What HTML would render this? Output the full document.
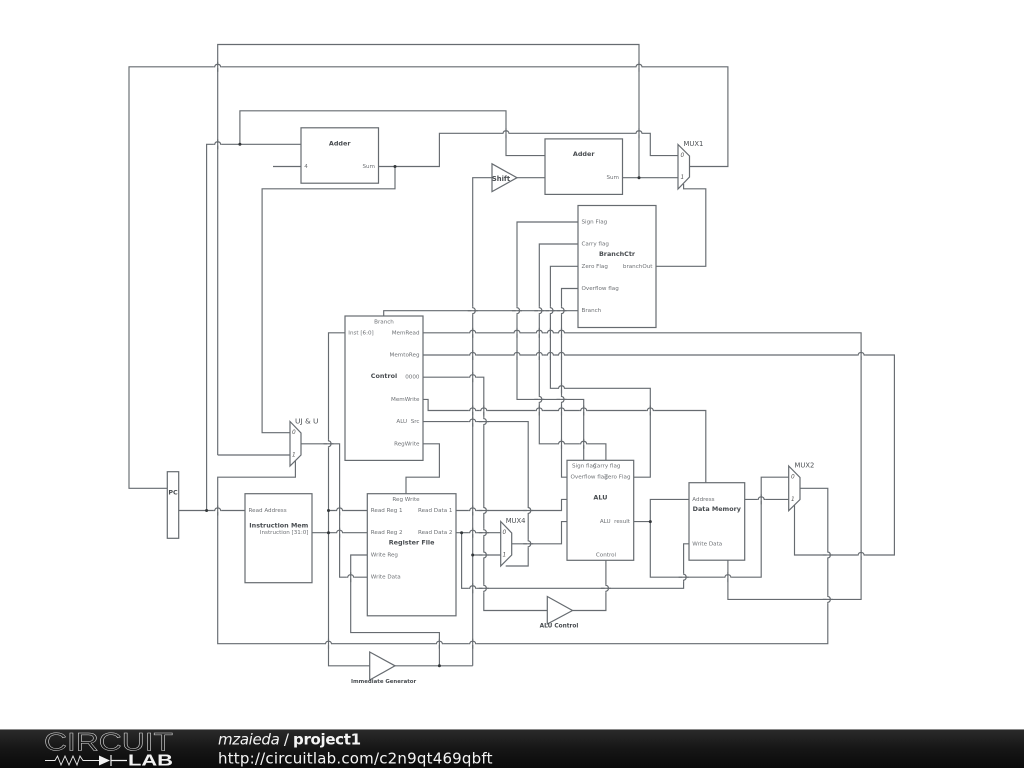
<!DOCTYPE html>
<html>
<head>
<meta charset="utf-8">
<style>
html,body{margin:0;padding:0;background:#fff;width:1024px;height:768px;overflow:hidden}
svg{display:block}
.w{fill:none;stroke:#666b70;stroke-width:1.15}
.s{fill:none;stroke:#666b70;stroke-width:1.2}
text{font-family:"DejaVu Sans","Liberation Sans",sans-serif;dominant-baseline:central}
.l{font-size:5.6px;fill:#6d7074}
.t{font-size:6.4px;font-weight:bold;fill:#484c50;text-anchor:middle}
.m{font-size:6.8px;fill:#4c5054}
.i{font-size:5.8px;font-style:italic;fill:#555}
.e{text-anchor:end}
.c{text-anchor:middle}
</style>
</head>
<body>
<svg width="1024" height="768" viewBox="0 0 1024 768" xmlns="http://www.w3.org/2000/svg">
<defs>
<g id="a"><path d="M-4 0H4" stroke="#fff" stroke-width="2.6" fill="none"/><path d="M0 -5V5" class="w"/><path d="M-4 0H-3C-2.4 -3.4 2.4 -3.4 3 0H4" class="w"/></g>
<g id="b"><path d="M0 -4V4" stroke="#fff" stroke-width="2.6" fill="none"/><path d="M-5 0H5" class="w"/><path d="M0 -4V-3C3.4 -2.4 3.4 2.4 0 3V4" class="w"/></g>
<circle id="d" r="1.5" fill="#33373a"/>
</defs>
<rect width="1024" height="768" fill="#fff"/>

<!-- wires -->
<path class="w" d="M217.7 455V44.5H639V177.7"/>
<path class="w" d="M167.3 488.3H129V66.8H727.9V166.5H689.5"/>
<path class="w" d="M206.6 510.5V144.3H301"/>
<path class="w" d="M239.9 144.3V110.8H506V155.6H545"/>
<path class="w" d="M273 166.5H301"/>
<path class="w" d="M378.5 166.5H439.4V133.3H650.3V155.6H678"/>
<path class="w" d="M395 166.5V188.8H262.1V432.7H290"/>
<path class="w" d="M217.7 455H290"/>
<path class="w" d="M295.4 461V477.2H217.7V643.7H827.8V488.3H800"/>
<path class="w" d="M178.7 510.5H245"/>
<path class="w" d="M472.7 665.8V177.7H492"/>
<path class="w" d="M517 177.7H545"/>
<path class="w" d="M622.5 177.7H678"/>
<path class="w" d="M683.6 184V188.8H705.8V266.3H656"/>
<path class="w" d="M578 222H517V399.4H583.7V460.3"/>
<path class="w" d="M578 244H539.3V443.8H605.9V460.3"/>
<path class="w" d="M578 266.3H550.4V388.3H650.3V477.2H633.7"/>
<path class="w" d="M578 288.5H561.5V477.2H567"/>
<path class="w" d="M578 310.7H383.7V316"/>
<path class="w" d="M345 332.8H328.5V665.8H369.7"/>
<path class="w" d="M423 332.8H861.1V599.4H727.9V560"/>
<path class="w" d="M423 355H894.4V555H794.5V505"/>
<path class="w" d="M423 377.2H483.8V610.5H547.3"/>
<path class="w" d="M423 399.4H428.1V410.5H705.8V482.7"/>
<path class="w" d="M423 421.6H528.2V566H505.7"/>
<path class="w" d="M423 443.8H439.4V477.2H406V493.7"/>
<path class="w" d="M301 443.8H339.6V577.2H367.3"/>
<path class="w" d="M312 532.7H367.3"/>
<path class="w" d="M328.5 510.5H367.3"/>
<path class="w" d="M456 510.5H561.5V499.4H567"/>
<path class="w" d="M456 532.7H500.7"/>
<path class="w" d="M461.6 532.7V588.3H683.6V543.8H689"/>
<path class="w" d="M472.7 555H500.7"/>
<path class="w" d="M511.7 543.8H561.5V521.6H567"/>
<path class="w" d="M633.7 521.6H650.3"/>
<path class="w" d="M689 499.4H650.3V577.2H761.2V477.2H788.7"/>
<path class="w" d="M744.7 499.4H788.7"/>
<path class="w" d="M572.5 610.5H605.9V560.3"/>
<path class="w" d="M395 665.8H472.7"/>
<path class="w" d="M439.4 665.8V632.6H350.7V555H367.3"/>

<!-- jumps: horizontal wire arcs over vertical -->
<use href="#a" x="217.7" y="66.8"/><use href="#a" x="639" y="66.8"/>
<use href="#a" x="217.7" y="144.3"/>
<use href="#a" x="506" y="133.3"/><use href="#a" x="639" y="133.3"/>
<use href="#a" x="217.7" y="510.5"/>
<use href="#a" x="339.6" y="510.5"/><use href="#a" x="339.6" y="532.7"/>
<use href="#a" x="350.7" y="577.2"/>
<use href="#a" x="328.5" y="643.7"/><use href="#a" x="439.4" y="643.7"/><use href="#a" x="472.7" y="643.7"/>
<use href="#a" x="472.7" y="332.8"/><use href="#a" x="517" y="332.8"/><use href="#a" x="539.3" y="332.8"/><use href="#a" x="550.4" y="332.8"/><use href="#a" x="561.5" y="332.8"/>
<use href="#a" x="472.7" y="355"/><use href="#a" x="517" y="355"/><use href="#a" x="539.3" y="355"/><use href="#a" x="550.4" y="355"/><use href="#a" x="561.5" y="355"/><use href="#a" x="861.1" y="355"/>
<use href="#a" x="472.7" y="377.2"/>
<use href="#a" x="561.5" y="388.3"/>
<use href="#a" x="472.7" y="410.5"/><use href="#a" x="483.8" y="410.5"/><use href="#a" x="539.3" y="410.5"/><use href="#a" x="561.5" y="410.5"/><use href="#a" x="583.7" y="410.5"/><use href="#a" x="650.3" y="410.5"/>
<use href="#a" x="472.7" y="421.6"/>
<use href="#a" x="561.5" y="443.8"/><use href="#a" x="583.7" y="443.8"/>
<use href="#a" x="472.7" y="510.5"/><use href="#a" x="472.7" y="532.7"/><use href="#a" x="472.7" y="588.3"/>
<use href="#a" x="727.9" y="577.2"/>
<use href="#a" x="761.2" y="499.4"/>
<use href="#a" x="861.1" y="555"/>

<!-- jumps: vertical wire bumps over horizontal -->
<use href="#b" x="472.7" y="310.7"/><use href="#b" x="517" y="310.7"/><use href="#b" x="539.3" y="310.7"/><use href="#b" x="550.4" y="310.7"/><use href="#b" x="561.5" y="310.7"/>
<use href="#b" x="539.3" y="399.4"/><use href="#b" x="561.5" y="399.4"/>
<use href="#b" x="483.8" y="421.6"/>
<use href="#b" x="328.5" y="443.8"/>
<use href="#b" x="483.8" y="510.5"/><use href="#b" x="483.8" y="532.7"/><use href="#b" x="483.8" y="555"/><use href="#b" x="483.8" y="588.3"/>
<use href="#b" x="528.2" y="510.5"/><use href="#b" x="528.2" y="543.8"/>
<use href="#b" x="605.9" y="588.3"/>
<use href="#b" x="683.6" y="577.2"/>
<use href="#b" x="827.8" y="555"/><use href="#b" x="827.8" y="599.4"/>

<!-- dots -->
<use href="#d" x="239.9" y="144.3"/><use href="#d" x="395" y="166.5"/><use href="#d" x="639" y="177.7"/>
<use href="#d" x="206.6" y="510.5"/><use href="#d" x="328.5" y="510.5"/><use href="#d" x="328.5" y="532.7"/>
<use href="#d" x="461.6" y="532.7"/><use href="#d" x="472.7" y="555"/><use href="#d" x="439.4" y="665.8"/><use href="#d" x="650.3" y="521.6"/>

<!-- blocks -->
<rect class="s" x="301" y="127.8" width="77.5" height="55.4" style="fill:#fff"/>
<rect class="s" x="545" y="138.9" width="77.5" height="55.5" style="fill:#fff"/>
<rect class="s" x="578" y="205.5" width="78" height="122" style="fill:#fff"/>
<rect class="s" x="345" y="316" width="78" height="144.4" style="fill:#fff"/>
<rect class="s" x="167.3" y="471.7" width="11.4" height="66.6" style="fill:#fff"/>
<rect class="s" x="245" y="493.7" width="67" height="89" style="fill:#fff"/>
<rect class="s" x="367.3" y="493.7" width="88.7" height="122.1" style="fill:#fff"/>
<rect class="s" x="567" y="460.3" width="66.7" height="100" style="fill:#fff"/>
<rect class="s" x="689" y="482.7" width="55.7" height="77.5" style="fill:#fff"/>

<!-- muxes and triangles -->
<path class="s" d="M678 144.5L689.5 156V177L678 189Z" style="fill:#fff"/>
<path class="s" d="M290 421.5L301 433V455L290 466Z" style="fill:#fff"/>
<path class="s" d="M500.7 521.5L511.7 533V555L500.7 566Z" style="fill:#fff"/>
<path class="s" d="M788.7 466L800 477.5V499.5L788.7 510.7Z" style="fill:#fff"/>
<path class="s" d="M492 163.8L517 177.7L492 191.6Z" style="fill:#fff"/>
<path class="s" d="M547.3 596.5L572.5 610.5L547.3 624Z" style="fill:#fff"/>
<path class="s" d="M369.7 652L395 665.8L369.7 680Z" style="fill:#fff"/>

<!-- labels -->
<text class="t" x="339.7" y="143.3">Adder</text>
<text class="l" x="304.3" y="167">4</text>
<text class="l e" x="375" y="167">Sum</text>
<text class="t" x="583.7" y="154.1">Adder</text>
<text class="l e" x="619" y="178.2">Sum</text>
<text class="t" x="501" y="178.8" style="font-size:6.8px">Shift</text>

<text class="m" x="683.5" y="144.2">MUX1</text>
<text class="i" x="680.5" y="156.1">0</text>
<text class="i" x="680.5" y="178.2">1</text>

<text class="l" x="581.5" y="222.5">Sign Flag</text>
<text class="l" x="581.5" y="244.5">Carry flag</text>
<text class="l" x="581.5" y="266.8">Zero Flag</text>
<text class="l" x="581.5" y="289">Overflow flag</text>
<text class="l" x="581.5" y="311.2">Branch</text>
<text class="t" x="617" y="254">BranchCtr</text>
<text class="l e" x="652.5" y="266.8">branchOut</text>

<text class="l c" x="384" y="322.5">Branch</text>
<text class="l" x="348.3" y="333.3">Inst [6:0]</text>
<text class="l e" x="419.5" y="333.3">MemRead</text>
<text class="l e" x="419.5" y="355.5">MemtoReg</text>
<text class="t" x="384" y="376">Control</text>
<text class="l e" x="419.5" y="377.7">0000</text>
<text class="l e" x="419.5" y="399.9">MemWrite</text>
<text class="l e" x="419.5" y="422.1" xml:space="preserve">ALU  Src</text>
<text class="l e" x="419.5" y="444.3">RegWrite</text>

<text class="m" x="295" y="421" style="font-size:7.4px">UJ &amp; U</text>
<text class="i" x="292" y="433.2">0</text>
<text class="i" x="292" y="455.5">1</text>

<text class="t" x="173" y="492.5">PC</text>
<text class="l" x="248.5" y="511">Read Address</text>
<text class="t" x="278.8" y="525.5">Instruction Mem</text>
<text class="l e" x="308.5" y="533.2">Instruction [31:0]</text>

<text class="l c" x="406" y="500">Reg Write</text>
<text class="l" x="370.8" y="511">Read Reg 1</text>
<text class="l" x="370.8" y="533.2">Read Reg 2</text>
<text class="l e" x="452.5" y="511">Read Data 1</text>
<text class="l e" x="452.5" y="533.2">Read Data 2</text>
<text class="t" x="411.6" y="542.5">Register File</text>
<text class="l" x="370.8" y="555.5">Write Reg</text>
<text class="l" x="370.8" y="577.7">Write Data</text>

<text class="l" x="572" y="466.5">Sign flag</text>
<text class="l" x="593" y="466.5">Carry flag</text>
<text class="l" x="570.5" y="477.7">Overflow flag</text>
<text class="l e" x="630.5" y="477.7">Zero Flag</text>
<text class="t" x="600.4" y="497.7">ALU</text>
<text class="l e" x="630" y="522.1" xml:space="preserve">ALU  result</text>
<text class="l c" x="606" y="555.5">Control</text>

<text class="l" x="692.3" y="499.9">Address</text>
<text class="t" x="716.8" y="509">Data Memory</text>
<text class="l" x="692.3" y="544.3">Write Data</text>

<text class="m" x="794.5" y="465.5">MUX2</text>
<text class="i" x="791" y="477.7">0</text>
<text class="i" x="791" y="499.9">1</text>

<text class="m" x="505.7" y="521.2">MUX4</text>
<text class="i" x="502.5" y="533.2">0</text>
<text class="i" x="502.5" y="555.5">1</text>

<text class="t" x="559" y="626.3" style="font-size:5.8px">ALU Control</text>
<text class="t" x="383.6" y="681.8" style="font-size:5.4px">Immediate Generator</text>

<!-- footer -->
<defs>
<linearGradient id="fg" x1="0" y1="0" x2="0" y2="1">
<stop offset="0" stop-color="#2b2b2b"/><stop offset="0.5" stop-color="#161616"/><stop offset="1" stop-color="#0a0a0a"/>
</linearGradient>
</defs>
<rect x="0" y="729" width="1024" height="39" fill="url(#fg)"/>
<rect x="0" y="729" width="1024" height="1" fill="#8a8a8a"/>
<text x="44" y="742.5" textLength="129" lengthAdjust="spacingAndGlyphs" style="font-family:'Liberation Sans',sans-serif;font-size:25px;fill:none;stroke:#d8d8d8;stroke-width:0.5px">CIRCUIT</text>
<path d="M45 760.5H55L57.5 756L61 765L65 756L69 765L73 756L77 765L80 756L83 760.5H100" fill="none" stroke="#e8e8e8" stroke-width="0.9"/>
<path d="M99 755.5L110 760.5L99 765.5Z" fill="#f2f2f2"/>
<path d="M111 755V766M111 760.5H127" fill="none" stroke="#f2f2f2" stroke-width="1.2"/>
<text x="128" y="760.8" textLength="45" lengthAdjust="spacingAndGlyphs" style="font-family:'Liberation Sans',sans-serif;font-size:15.5px;font-weight:bold;fill:#f2f2f2">LAB</text>
<text x="218" y="739.5" textLength="143" style="font-size:15px;fill:#f4f4f4"><tspan font-style="italic">mzaieda</tspan> / <tspan font-weight="bold">project1</tspan></text>
<text x="218" y="758.5" textLength="274.5" style="font-size:15px;fill:#f4f4f4">http://circuitlab.com/c2n9qt469qbft</text>
</svg>
</body>
</html>
